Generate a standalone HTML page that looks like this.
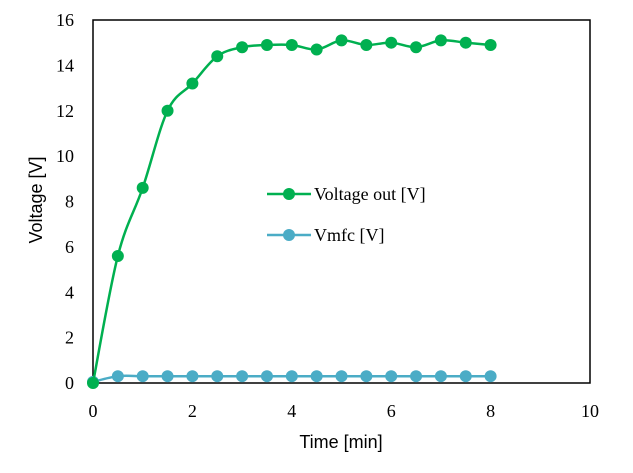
<!DOCTYPE html>
<html><head><meta charset="utf-8"><style>
body{margin:0;background:#fff}
svg{display:block}
.tk{font-family:"Liberation Serif",serif;font-size:18px;fill:#000}
.ti{font-family:"Liberation Sans",sans-serif;font-size:18px;fill:#000}
</style></head><body>
<svg id="c" width="633" height="473">
<rect x="0" y="0" width="633" height="473" fill="#fff"/>
</svg>
<script>
const times=[0,0.5,1,1.5,2,2.5,3,3.5,4,4.5,5,5.5,6,6.5,7,7.5,8];
const voltageOut=[0,5.6,8.6,12,13.2,14.4,14.8,14.9,14.9,14.7,15.1,14.9,15.0,14.8,15.1,15.0,14.9];
const vmfc=[0.05,0.3,0.3,0.3,0.3,0.3,0.3,0.3,0.3,0.3,0.3,0.3,0.3,0.3,0.3,0.3,0.3];
const xTicks=[0,2,4,6,8,10];
const yTicks=[0,2,4,6,8,10,12,14,16];
const X0=93,X1=590,Y0=383,Y1=20;
const sx=v=>X0+(v-0)/10*(X1-X0);
const sy=v=>Y0-(v-0)/16*(Y0-Y1);
const svg=document.getElementById('c');
const NS='http://www.w3.org/2000/svg';
function mk(t,a){const e=document.createElementNS(NS,t);for(const k in a)e.setAttribute(k,a[k]);svg.appendChild(e);return e;}
let fr=mk('rect',{x:X0,y:Y1,width:X1-X0,height:Y0-Y1,fill:'none',stroke:'#000','stroke-width':1.5});


xTicks.forEach(t=>{const e=mk('text',{x:sx(t),y:417,'text-anchor':'middle',class:'tk'});e.textContent=t;

});
yTicks.forEach(t=>{const e=mk('text',{x:74,y:sy(t)+6,'text-anchor':'end',class:'tk'});e.textContent=t;

});
let xt=mk('text',{x:341,y:448,'text-anchor':'middle',class:'ti'});xt.textContent='Time [min]';


let yt=mk('text',{x:42,y:200,'text-anchor':'middle',class:'ti',transform:'rotate(-90 42 200)'});yt.textContent='Voltage [V]';


function smooth(pts){let d='M'+pts[0][0]+','+pts[0][1];const t=0.17;
for(let i=0;i<pts.length-1;i++){const p0=pts[i-1]||pts[i],p1=pts[i],p2=pts[i+1],p3=pts[i+2]||p2;
d+=' C'+(p1[0]+(p2[0]-p0[0])*t)+','+(p1[1]+(p2[1]-p0[1])*t)+' '+(p2[0]-(p3[0]-p1[0])*t)+','+(p2[1]-(p3[1]-p1[1])*t)+' '+p2[0]+','+p2[1];}
return d;}
function series(vals,col,name){
const pts=times.map((t,i)=>[sx(t),sy(vals[i])]);
const l=mk('path',{d:smooth(pts),fill:'none',stroke:col,'stroke-width':2.5});


pts.forEach(p=>{const c=mk('circle',{cx:p[0],cy:p[1],r:6,fill:col});

});}
series(vmfc,'#4BACC6','vmfc');
series(voltageOut,'#00B050','voltage-out');
function leg(y,col,label,name){
const l=mk('line',{x1:267,x2:311,y1:y,y2:y,stroke:col,'stroke-width':2.5});


const c=mk('circle',{cx:289,cy:y,r:6,fill:col});


const t=mk('text',{x:314,y:y+6,class:'tk'});t.textContent=label;

}
leg(194,'#00B050','Voltage out [V]','voltage-out');
leg(235,'#4BACC6','Vmfc [V]','vmfc');
</script>
</body></html>
